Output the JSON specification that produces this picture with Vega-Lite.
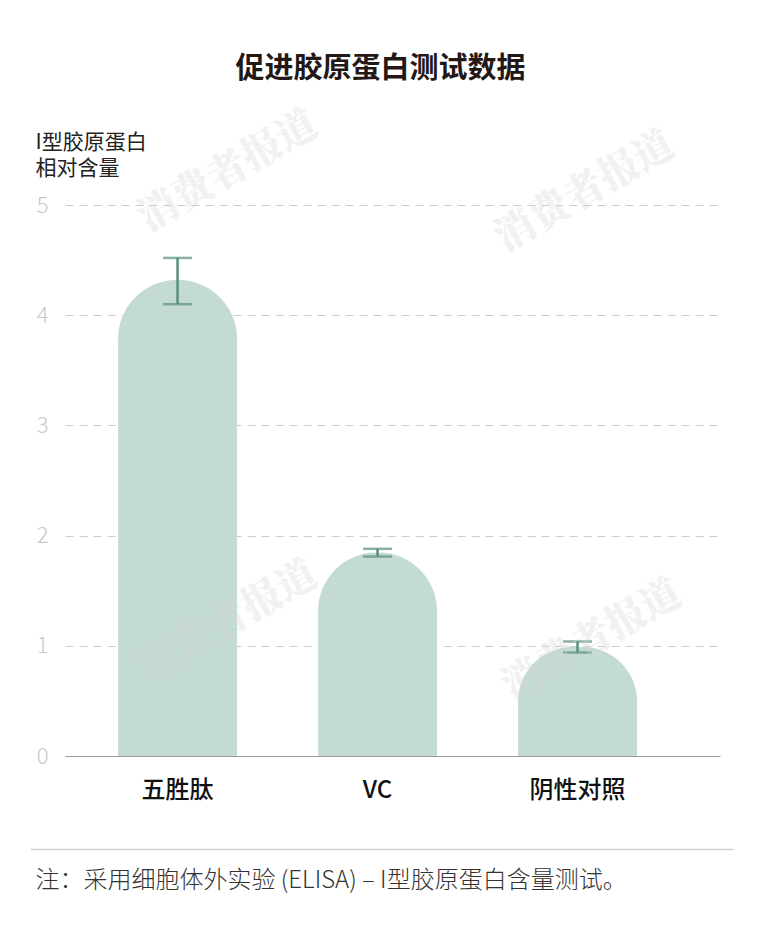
{
  "$schema": "https://vega.github.io/schema/vega-lite/v6.json",
  "width": 655,
  "height": 551,
  "autosize": "none",
  "padding": {"left": 65, "top": 205, "right": 42, "bottom": 181},
  "background": "white",
  "title": {
    "text": "促进胶原蛋白测试数据",
    "anchor": "middle",
    "frame": "group",
    "dx": -12,
    "offset": 21,
    "fontSize": 29,
    "fontWeight": "bold",
    "font": "Noto Sans CJK SC",
    "color": "#231815"
  },
  "config": {
    "view": {"stroke": null},
    "font": "Noto Sans CJK SC"
  },
  "layer": [
    {
      "data": {
        "values": [
          {"group": "五胜肽", "value": 4.32, "lo": 4.1, "hi": 4.52},
          {"group": "VC", "value": 1.85, "lo": 1.81, "hi": 1.88},
          {"group": "阴性对照", "value": 0.99, "lo": 0.94, "hi": 1.04}
        ]
      },
      "layer": [
        {
          "mark": {"type": "bar", "color": "#c3dbd3", "cornerRadiusEnd": 59},
          "encoding": {
            "x": {
              "field": "group",
              "type": "nominal",
              "sort": null,
              "title": null,
              "scale": {"paddingInner": 0.405, "paddingOuter": 0.34, "align": 0.39},
              "axis": {
                "labelAngle": 0,
                "labelFontSize": 24,
                "labelFontWeight": 500,
                "labelColor": "#111111",
                "labelPadding": 22,
                "ticks": false,
                "domainColor": "#9a9a9a",
                "domainWidth": 1
              }
            },
            "y": {
              "field": "value",
              "type": "quantitative",
              "scale": {"domain": [0, 5], "nice": false},
              "axis": {
                "values": [0, 1, 2, 3, 4, 5],
                "format": "d",
                "domain": false,
                "ticks": false,
                "labelFontSize": 22,
                "labelFontWeight": 300,
                "labelColor": "#c8c8c8",
                "labelPadding": 17,
                "grid": true,
                "gridColor": "#cccccc",
                "gridDash": [8, 6],
                "gridWidth": 1,
                "title": ["I型胶原蛋白", "相对含量"],
                "titleAngle": 0,
                "titleAlign": "left",
                "titleBaseline": "alphabetic",
                "titleX": -30,
                "titleY": -57,
                "titleFontSize": 21,
                "titleFontWeight": "normal",
                "titleLineHeight": 26,
                "titleColor": "#222222"
              }
            }
          }
        },
        {
          "mark": {"type": "rule", "color": "#5a8f7c", "strokeWidth": 2.5},
          "encoding": {
            "x": {"field": "group", "type": "nominal", "sort": null},
            "y": {"field": "lo", "type": "quantitative"},
            "y2": {"field": "hi"}
          }
        },
        {
          "mark": {"type": "tick", "color": "#5a8f7c", "thickness": 2.5, "size": 29},
          "encoding": {
            "x": {"field": "group", "type": "nominal", "sort": null},
            "y": {"field": "lo", "type": "quantitative"}
          }
        },
        {
          "mark": {"type": "tick", "color": "#5a8f7c", "thickness": 2.5, "size": 29},
          "encoding": {
            "x": {"field": "group", "type": "nominal", "sort": null},
            "y": {"field": "hi", "type": "quantitative"}
          }
        }
      ]
    },
    {
      "data": {
        "values": [
          {"pos": 228, "value": 5.3, "mark": "消费者报道"},
          {"pos": 585, "value": 5.12, "mark": "消费者报道"},
          {"pos": 228, "value": 1.22, "mark": "消费者报道"},
          {"pos": 592, "value": 1.05, "mark": "消费者报道"}
        ]
      },
      "mark": {
        "type": "text",
        "angle": -30,
        "fontSize": 40,
        "fontWeight": 900,
        "font": "Noto Serif CJK SC, Noto Sans CJK SC",
        "color": "#d8d8d8",
        "opacity": 0.35
      },
      "encoding": {
        "text": {"field": "mark"},
        "x": {
          "field": "pos",
          "type": "quantitative",
          "scale": {"domain": [30, 733], "range": [-35, 668]},
          "axis": {
            "orient": "bottom",
            "offset": 93,
            "labels": false,
            "ticks": false,
            "grid": false,
            "domainColor": "#cfcfcf",
            "domainWidth": 1.5,
            "title": "注：采用细胞体外实验 (ELISA) – I型胶原蛋白含量测试。",
            "titleAnchor": "start",
            "titleAlign": "left",
            "titleBaseline": "middle",
            "titleX": -30,
            "titleY": 31,
            "titleFontSize": 24,
            "titleFontWeight": 300,
            "titleColor": "#333333"
          }
        },
        "y": {"field": "value", "type": "quantitative"}
      }
    }
  ],
  "resolve": {"scale": {"x": "independent"}, "axis": {"x": "independent"}}
}
